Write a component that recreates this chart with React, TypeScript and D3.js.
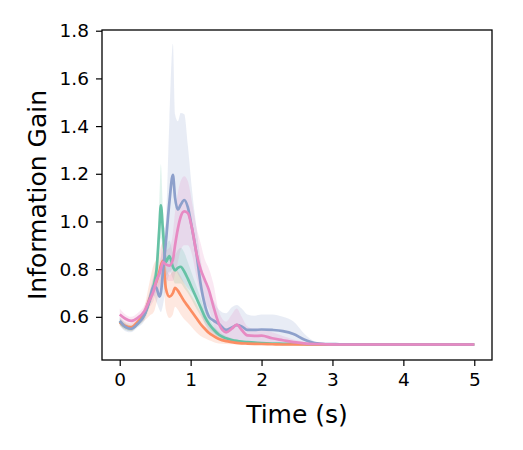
import React, { useRef, useEffect } from 'react';
import * as d3 from 'd3';

// shared time grid (seconds)
const times = [
  0, 0.08, 0.16, 0.25, 0.35, 0.42, 0.48, 0.52, 0.56, 0.58, 0.61, 0.65, 0.7, 0.75, 0.78, 0.82, 0.86, 0.91, 0.96, 1.02,
  1.08, 1.14, 1.2, 1.26, 1.32, 1.4, 1.5, 1.58, 1.65, 1.72, 1.8, 1.9, 2.0, 2.15, 2.3, 2.45, 2.6, 2.75, 2.9, 3.1, 3.5,
  4.0, 4.5, 5.0,
];

const greenMean = [
  0.58, 0.558, 0.552, 0.572, 0.61, 0.67, 0.73, 0.8, 0.98, 1.068, 0.96, 0.83, 0.855, 0.81, 0.795, 0.805, 0.81, 0.79,
  0.76, 0.72, 0.68, 0.64, 0.6, 0.57, 0.548, 0.525, 0.51, 0.503, 0.499, 0.496, 0.494, 0.492, 0.49, 0.488, 0.487, 0.486,
  0.485, 0.484, 0.484, 0.484, 0.484, 0.484, 0.484, 0.484,
];
const greenUpper = [
  0.595, 0.572, 0.565, 0.585, 0.63, 0.7, 0.77, 0.85, 1.1, 1.24, 1.05, 0.9, 0.92, 0.87, 0.86, 0.88, 0.89, 0.87, 0.83,
  0.78, 0.73, 0.68, 0.63, 0.595, 0.565, 0.54, 0.52, 0.51, 0.505, 0.5, 0.497, 0.494, 0.492, 0.49, 0.488, 0.487, 0.486,
  0.485, 0.485, 0.485, 0.485, 0.485, 0.485, 0.485,
];
const greenLower = [
  0.566, 0.545, 0.54, 0.56, 0.592, 0.645, 0.695, 0.755, 0.88, 0.93, 0.88, 0.77, 0.79, 0.76, 0.74, 0.74, 0.74, 0.72,
  0.7, 0.67, 0.635, 0.605, 0.575, 0.55, 0.533, 0.513, 0.502, 0.497, 0.494, 0.492, 0.491, 0.49, 0.488, 0.486, 0.486,
  0.485, 0.484, 0.484, 0.484, 0.484, 0.484, 0.484, 0.484, 0.484,
];

const orangeMean = [
  0.577, 0.562, 0.556, 0.578, 0.615, 0.675, 0.72, 0.75, 0.79, 0.815, 0.835, 0.72, 0.685, 0.7, 0.722, 0.71, 0.69, 0.665,
  0.645, 0.62, 0.595, 0.57, 0.55, 0.532, 0.52, 0.507, 0.498, 0.494, 0.491, 0.489, 0.488, 0.487, 0.486, 0.485, 0.484,
  0.484, 0.484, 0.484, 0.484, 0.484, 0.484, 0.484, 0.484, 0.484,
];
const orangeUpper = [
  0.592, 0.577, 0.571, 0.594, 0.645, 0.745, 0.82, 0.84, 0.87, 0.895, 0.915, 0.81, 0.775, 0.79, 0.8, 0.79, 0.77, 0.74,
  0.715, 0.685, 0.655, 0.62, 0.59, 0.562, 0.545, 0.527, 0.51, 0.503, 0.498, 0.495, 0.493, 0.491, 0.489, 0.487, 0.486,
  0.485, 0.485, 0.485, 0.485, 0.485, 0.485, 0.485, 0.485, 0.485,
];
const orangeLower = [
  0.562, 0.547, 0.541, 0.562, 0.585, 0.605, 0.62, 0.66, 0.71, 0.735, 0.755, 0.63, 0.595, 0.61, 0.642, 0.63, 0.61,
  0.59, 0.575, 0.555, 0.535, 0.52, 0.51, 0.502, 0.495, 0.488, 0.486, 0.485, 0.484, 0.483, 0.483, 0.483, 0.483, 0.483,
  0.483, 0.483, 0.483, 0.483, 0.483, 0.483, 0.483, 0.483, 0.483, 0.483,
];

const blueMean = [
  0.583, 0.558, 0.55, 0.57, 0.61, 0.67, 0.73, 0.72, 0.685, 0.7, 0.79, 0.91, 1.08, 1.195, 1.1, 1.05, 1.07, 1.09, 1.06,
  0.97, 0.87, 0.74, 0.65, 0.6, 0.585, 0.57, 0.545, 0.555, 0.565, 0.56, 0.545, 0.545, 0.547, 0.545, 0.54, 0.528, 0.505,
  0.49, 0.486, 0.485, 0.484, 0.484, 0.484, 0.484,
];
const blueUpper = [
  0.6, 0.575, 0.565, 0.585, 0.635, 0.7, 0.77, 0.78, 0.8, 0.85, 0.95, 1.0, 1.42, 1.745, 1.45, 1.42, 1.455, 1.45, 1.32,
  1.13, 0.98, 0.84, 0.75, 0.7, 0.67, 0.63, 0.615, 0.64, 0.65, 0.635, 0.61, 0.605, 0.61, 0.61, 0.6, 0.58, 0.53, 0.497,
  0.489, 0.486, 0.485, 0.485, 0.485, 0.485,
];
const blueLower = [
  0.565, 0.54, 0.535, 0.555, 0.585, 0.64, 0.69, 0.66, 0.63, 0.62, 0.65, 0.72, 0.78, 0.8, 0.8, 0.78, 0.76, 0.74, 0.72,
  0.7, 0.67, 0.62, 0.57, 0.54, 0.525, 0.515, 0.5, 0.5, 0.5, 0.5, 0.495, 0.495, 0.495, 0.493, 0.49, 0.488, 0.486, 0.485,
  0.484, 0.484, 0.484, 0.484, 0.484, 0.484,
];

const pinkMean = [
  0.61, 0.592, 0.583, 0.595, 0.625, 0.67, 0.71, 0.755, 0.78, 0.8, 0.83, 0.82, 0.815, 0.84, 0.9, 0.97, 1.02, 1.042, 1.035,
  0.97, 0.87, 0.8, 0.755, 0.71, 0.645, 0.57, 0.535, 0.55, 0.567, 0.545, 0.522, 0.52, 0.521, 0.51, 0.502, 0.494, 0.489,
  0.486, 0.485, 0.484, 0.484, 0.484, 0.484, 0.484,
];
const pinkUpper = [
  0.635, 0.61, 0.6, 0.615, 0.65, 0.7, 0.75, 0.8, 0.83, 0.85, 0.88, 0.88, 0.89, 0.95, 1.04, 1.12, 1.17, 1.19, 1.17, 1.08,
  0.98, 0.91, 0.84, 0.8, 0.74, 0.62, 0.58, 0.61, 0.635, 0.6, 0.56, 0.55, 0.55, 0.535, 0.52, 0.505, 0.495, 0.489, 0.486,
  0.485, 0.485, 0.485, 0.485, 0.485,
];
const pinkLower = [
  0.59, 0.575, 0.567, 0.578, 0.6, 0.64, 0.67, 0.71, 0.73, 0.75, 0.77, 0.76, 0.75, 0.75, 0.78, 0.83, 0.88, 0.9, 0.9,
  0.86, 0.77, 0.7, 0.66, 0.63, 0.57, 0.52, 0.5, 0.5, 0.505, 0.5, 0.492, 0.492, 0.495, 0.49, 0.487, 0.485, 0.484, 0.484,
  0.484, 0.484, 0.484, 0.484, 0.484, 0.484,
];

const xTicks = [0, 1, 2, 3, 4, 5];
const yTicks = [0.6, 0.8, 1.0, 1.2, 1.4, 1.6, 1.8];

const series = [
  { color: '#66c2a5', mean: greenMean, upper: greenUpper, lower: greenLower },
  { color: '#fc8d62', mean: orangeMean, upper: orangeUpper, lower: orangeLower },
  { color: '#8da0cb', mean: blueMean, upper: blueUpper, lower: blueLower },
  { color: '#e78ac3', mean: pinkMean, upper: pinkUpper, lower: pinkLower },
];

const FONT = '"DejaVu Sans", sans-serif';

const GainChart: React.FC = () => {
  const ref = useRef<SVGSVGElement | null>(null);

  useEffect(() => {
    if (!ref.current) return;
    const svg = d3.select(ref.current);
    svg.selectAll('*').remove();

    const margin = { top: 30, right: 31, bottom: 90, left: 102 };
    const width = 523 - margin.left - margin.right;
    const height = 450 - margin.top - margin.bottom;

    const x = d3.scaleLinear().domain([-0.25, 5.25]).range([0, width]);
    const y = d3.scaleLinear().domain([0.419, 1.803]).range([height, 0]);

    const g = svg.append('g').attr('transform', `translate(${margin.left},${margin.top})`);

    // confidence bands first, then the mean lines on top
    series.forEach((s) => {
      const area = d3
        .area<number>()
        .x((_, i) => x(times[i]))
        .y0((_, i) => y(s.lower[i]))
        .y1((_, i) => y(s.upper[i]))
        .curve(d3.curveMonotoneX);
      g.append('path').datum(s.mean).attr('d', area).attr('fill', s.color).attr('fill-opacity', 0.2);
    });

    series.forEach((s) => {
      const line = d3
        .line<number>()
        .x((_, i) => x(times[i]))
        .y((d) => y(d))
        .curve(d3.curveMonotoneX);
      g.append('path')
        .datum(s.mean)
        .attr('d', line)
        .attr('fill', 'none')
        .attr('stroke', s.color)
        .attr('stroke-width', 2.7)
        .attr('stroke-linejoin', 'round');
    });

    const xAxis = g
      .append('g')
      .attr('transform', `translate(0,${height})`)
      .call(d3.axisBottom(x).tickValues(xTicks).tickFormat(d3.format('d')).tickSize(6).tickPadding(7));
    const yAxis = g
      .append('g')
      .call(d3.axisLeft(y).tickValues(yTicks).tickFormat(d3.format('.1f')).tickSize(6).tickPadding(7));

    [xAxis, yAxis].forEach((a) => {
      a.select('.domain').remove();
      a.selectAll('line').attr('stroke', '#000').attr('stroke-width', 1.2);
      a.selectAll('text').attr('fill', '#000').style('font-family', FONT).style('font-size', '18.5px');
    });

    g.append('rect')
      .attr('width', width)
      .attr('height', height)
      .attr('fill', 'none')
      .attr('stroke', '#000')
      .attr('stroke-width', 1.3);

    g.append('text')
      .attr('x', width / 2)
      .attr('y', height + 63)
      .attr('text-anchor', 'middle')
      .style('font-family', FONT)
      .style('font-size', '25px')
      .text('Time (s)');

    g.append('text')
      .attr('transform', `translate(${-56},${height / 2}) rotate(-90)`)
      .attr('text-anchor', 'middle')
      .style('font-family', FONT)
      .style('font-size', '25px')
      .text('Information Gain');
  }, []);

  return <svg ref={ref} width={523} height={450} style={{ display: 'block' }} />;
};

export default function App() {
  return (
    <div style={{ margin: -8 }}>
      <GainChart />
    </div>
  );
}
